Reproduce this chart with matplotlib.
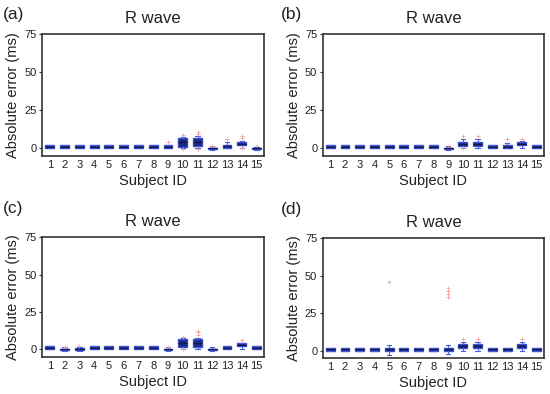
import numpy as np
import matplotlib
matplotlib.use("Agg")
import matplotlib.pyplot as plt

plt.rcParams["font.family"] = ["Liberation Sans", "DejaVu Sans"]

subjects = list(range(1, 16))

# per panel: q1, median, q3, whisker low, whisker high, outliers (ms)
a_q1 = [0, 0, 0, 0, 0, 0, 0, 0, 0, 1, 1.5, -0.5, 0, 2, -0.5]
a_med = [1, 1, 1, 1, 1, 1, 1, 1, 1, 4.5, 4, 0, 1.5, 3, 0]
a_q3 = [2, 2, 2, 2, 2, 2, 2, 2, 2, 7, 7, 0.5, 2.5, 4.5, 0.5]
a_lo = [0, 0, 0, 0, 0, 0, 0, 0, 0, 0, 0, -1, 0, 0.5, -1]
a_hi = [2, 2, 2, 2, 2, 2, 2, 2, 2, 7.5, 8, 1.5, 4, 5, 1]
a_out = [[], [], [], [], [], [], [], [], [4], [8.5, -0.5], [9.5, 11, -0.5],
         [1.5], [6], [8, 6.5, 0], [1.5]]

b_q1 = [0, 0, 0, 0, 0, 0, 0, 0, -0.5, 1.5, 1.5, 0, 0, 2, 0]
b_med = [1, 1, 1, 1, 1, 1, 1, 1, 0, 3, 3, 1, 1, 3, 1]
b_q3 = [2, 2, 2, 2, 2, 2, 2, 2, 0.5, 4.5, 4.5, 2, 2.5, 4, 2]
b_lo = [0, 0, 0, 0, 0, 0, 0, 0, -1, 0, 0, 0, 0, 0.5, 0]
b_hi = [2, 2, 2, 2, 2, 2, 2, 2, 1.5, 6, 6, 2, 3.5, 5, 2]
b_out = [[], [], [], [], [], [], [], [], [1], [8, 0], [8], [], [6], [6], []]

c_q1 = [0, -0.5, -0.5, 0, 0, 0, 0, 0, -0.5, 1.5, 1.5, -0.5, 0, 2, 0]
c_med = [1, 0, 0.5, 1, 1, 1, 1, 1, 0, 4, 4, 0, 1, 3, 1]
c_q3 = [2, 0.5, 1, 2, 2, 2, 2, 2, 0.5, 7, 7, 0.5, 2, 4, 2]
c_lo = [0, -1, -1, 0, 0, 0, 0, 0, -1, 0, 0, -1, 0, 0, 0]
c_hi = [2, 1.5, 1.5, 2, 2, 2, 2, 2, 1.5, 8, 8, 1.5, 2, 4.5, 2]
c_out = [[], [1.5], [2], [], [], [], [], [], [1.5], [8.5, 0.5],
         [10, 11.5, 12.5], [], [], [6], []]

d_q1 = [0, 0, 0, 0, -0.5, 0, 0, 0, -0.5, 1.5, 1.5, 0, 0, 2, 0]
d_med = [1, 1, 1, 1, 1, 1, 1, 1, 1, 3, 3, 1, 1, 3, 1]
d_q3 = [2, 2, 2, 2, 2, 2, 2, 2, 2, 4.5, 4.5, 2, 2, 4.5, 2]
d_lo = [0, 0, 0, 0, -3, 0, 0, 0, -2, 0, 0, 0, 0, 0, 0]
d_hi = [2, 2, 2, 2, 4, 2, 2, 2, 4, 6, 6, 2, 2, 6, 2]
d_out = [[], [], [], [], [46], [], [], [], [36, 38, 40, 42], [8], [8],
         [], [], [8], []]

panels = [
    ("(a)", a_q1, a_med, a_q3, a_lo, a_hi, a_out),
    ("(b)", b_q1, b_med, b_q3, b_lo, b_hi, b_out),
    ("(c)", c_q1, c_med, c_q3, c_lo, c_hi, c_out),
    ("(d)", d_q1, d_med, d_q3, d_lo, d_hi, d_out),
]

rects = [
    [0.077, 0.604, 0.403, 0.31],
    [0.587, 0.604, 0.402, 0.31],
    [0.077, 0.094, 0.403, 0.304],
    [0.587, 0.091, 0.402, 0.304],
]
label_pos = [(0.005, 0.962), (0.51, 0.962), (0.005, 0.47), (0.51, 0.468)]

fig = plt.figure(figsize=(5.5, 3.94), dpi=100)

for (lab, q1, med, q3, lo, hi, out), r, lp in zip(panels, rects, label_pos):
    ax = fig.add_axes(r)
    stats = []
    for i in range(len(subjects)):
        stats.append(dict(q1=q1[i], med=med[i], q3=q3[i], whislo=lo[i],
                          whishi=hi[i], fliers=out[i], label=str(subjects[i])))
    ax.bxp(stats, positions=subjects, widths=0.6, patch_artist=True,
           boxprops=dict(facecolor="#1c2a80", edgecolor="#3a4fd0", linewidth=1.0),
           medianprops=dict(color="#101850", linewidth=1.0),
           whiskerprops=dict(color="#4a5fe0", linewidth=0.8, linestyle="-"),
           capprops=dict(color="#4a5fe0", linewidth=0.8),
           flierprops=dict(marker="+", markeredgecolor="#f4a0a0",
                           markersize=2.5, markeredgewidth=0.6))
    ax.set_xlim(0.5, 15.5)
    ax.set_ylim(-5, 75)
    ax.set_yticks([0, 25, 50, 75])
    ax.set_xticks(subjects)
    ax.set_xticklabels([str(s) for s in subjects])
    ax.tick_params(axis="both", labelsize=8, length=2, width=0.8,
                   colors="#333333", labelcolor="#222222", pad=2)
    ax.tick_params(axis="x", length=0, pad=3)
    for sp in ax.spines.values():
        sp.set_color("#333333")
        sp.set_linewidth(1.2)
    ax.set_xlabel("Subject ID", fontsize=10.5, color="#222222", labelpad=3)
    ax.set_ylabel("Absolute error (ms)", fontsize=10.5, color="#222222", labelpad=3)
    ax.set_title("R wave", fontsize=12, color="#222222", pad=8)
    fig.text(lp[0], lp[1], lab, fontsize=12.5, color="#222222",
             va="center", ha="left")

fig.savefig("out.png", dpi=100)
